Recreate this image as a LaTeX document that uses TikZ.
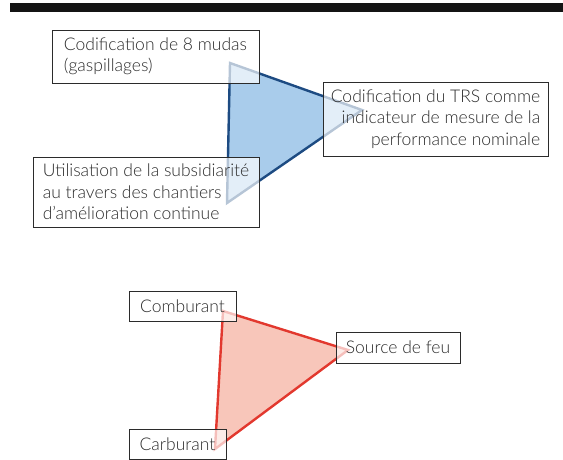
\documentclass[tikz,border=0pt]{standalone}
\usepackage{fontspec}
\setmainfont{Lato}[UprightFont=*-Light]
\definecolor{bluefill}{HTML}{A9CCEB}
\definecolor{blueedge}{HTML}{1D4B82}
\definecolor{redfill}{HTML}{F8C6BA}
\definecolor{rededge}{HTML}{E2382E}
\definecolor{inkgray}{HTML}{2B2B2B}
\begin{document}
\begin{tikzpicture}[x=1pt,y=1pt,
  box/.style={draw=inkgray, line width=0.9pt, fill=white, fill opacity=0.68,
    text opacity=1, text=inkgray, inner sep=0pt,
    font=\fontsize{17.5}{21.5}\selectfont},
  bluetri/.style={draw=blueedge, fill=bluefill, line width=2.4pt},
  redtri/.style={draw=rededge, fill=redfill, line width=2.4pt}]
\useasboundingbox (0,0) rectangle (563,459);
\fill[black!92] (10,447) rectangle (563,456);
% blue triangle
\coordinate (b1) at (230,396);
\coordinate (b2) at (362,349);
\coordinate (b3) at (227,256);
\draw[bluetri] (b1) -- (b2) -- (b3) -- cycle;
% red triangle
\coordinate (r1) at (223,148);
\coordinate (r2) at (348,109);
\coordinate (r3) at (215,10);
\draw[redtri] (r1) -- (r2) -- (r3) -- cycle;
% boxes
\node[box, minimum height=53, minimum width=207, align=left] (mudas) at (155.5,402.5)
  {Codification de 8 mudas\\(gaspillages)};
\node[box, minimum height=74, minimum width=225, align=right] (trs) at (435.5,340)
  {Codification du TRS comme\\indicateur de mesure de la\\performance nominale};
\node[box, minimum height=70, minimum width=226, align=left] (subs) at (146,267)
  {Utilisation de la subsidiarité\\au travers des chantiers\\d'amélioration continue};
\node[box, minimum height=30, minimum width=107] (comb) at (182.5,153) {Comburant};
\node[box, minimum height=31, minimum width=124] (feu) at (398,111.5) {Source de feu};
\node[box, minimum height=30, minimum width=97] (carb) at (177.5,14.5) {Carburant};
\end{tikzpicture}
\end{document}
